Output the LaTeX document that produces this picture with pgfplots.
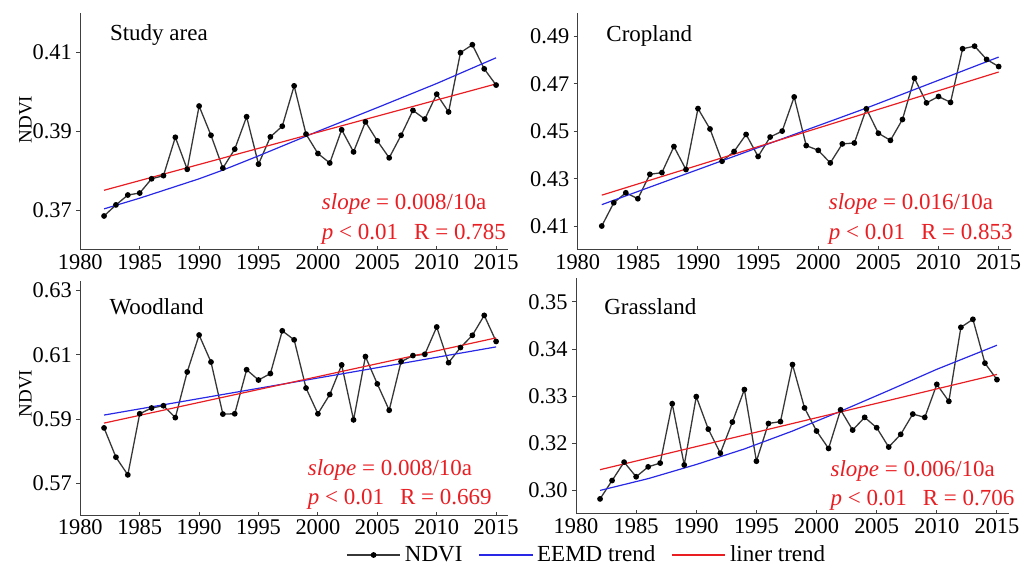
\documentclass[border=0pt]{standalone}
\usepackage{pgfplots}
\pgfplotsset{compat=1.18}
\usepackage{pgfplotstable}
\usepackage{fontspec}
\setmainfont{Liberation Serif}

\definecolor{ndvigray}{RGB}{55,55,55}
\definecolor{eemdblue}{RGB}{40,40,230}
\definecolor{linred}{RGB}{232,30,35}

% NDVI per year for the four panels
\pgfplotstableread{
year  study   crop    wood    grass
1982  0.3686  0.4101  0.5873  0.3082
1983  0.3714  0.4199  0.5782  0.3121
1984  0.3739  0.4241  0.5727  0.3160
1985  0.3744  0.4216  0.5917  0.3129
1986  0.3780  0.4319  0.5935  0.3150
1987  0.3788  0.4326  0.5942  0.3158
1988  0.3885  0.4436  0.5905  0.3284
1989  0.3804  0.4339  0.6047  0.3154
1990  0.3964  0.4596  0.6162  0.3299
1991  0.3890  0.4510  0.6078  0.3230
1992  0.3807  0.4374  0.5916  0.3179
1993  0.3855  0.4415  0.5917  0.3245
1994  0.3937  0.4487  0.6054  0.3314
1995  0.3817  0.4394  0.6022  0.3162
1996  0.3886  0.4476  0.6042  0.3242
1997  0.3913  0.4501  0.6175  0.3246
1998  0.4015  0.4645  0.6147  0.3367
1999  0.3893  0.4440  0.5997  0.3275
2000  0.3844  0.4420  0.5917  0.3226
2001  0.3820  0.4367  0.5977  0.3189
2002  0.3904  0.4447  0.6069  0.3271
2003  0.3848  0.4451  0.5898  0.3228
2004  0.3924  0.4595  0.6095  0.3255
2005  0.3876  0.4492  0.6010  0.3233
2006  0.3833  0.4462  0.5928  0.3192
2007  0.3890  0.4550  0.6079  0.3219
2008  0.3953  0.4724  0.6098  0.3262
2009  0.3931  0.4620  0.6102  0.3255
2010  0.3994  0.4647  0.6187  0.3325
2011  0.3949  0.4622  0.6076  0.3289
2012  0.4099  0.4848  0.6123  0.3446
2013  0.4119  0.4859  0.6161  0.3463
2014  0.4058  0.4803  0.6223  0.3370
2015  0.4017  0.4773  0.6142  0.3335
}\ndvidata

\pgfplotsset{
  panel/.style={
    scale only axis,
    anchor=south west,
    xmin=1980, xmax=2016,
    xtick={1980,1985,...,2015},
    axis lines*=left,
    axis line style={black!75, line width=0.5pt},
    xtick align=inside, ytick align=outside,
    major tick length=2pt,
    tick style={black!75, line width=0.5pt},
    clip=false,
    tick label style={font=\fontsize{11.2}{13}\selectfont, inner sep=2pt},
    x tick label style={/pgf/number format/1000 sep={}},
    y tick label style={/pgf/number format/.cd, fixed, precision=2, zerofill},
    /pgf/number format/assume math mode=true,
    label style={font=\fontsize{9.5}{11}\selectfont},
  },
  ndvi/.style={color=ndvigray, line width=0.65pt, mark=*, mark size=1.1pt,
    mark options={draw=black, fill=black}},
  eemd/.style={color=eemdblue, line width=0.6pt},
  liner/.style={color=linred, line width=0.6pt},
}
\newcommand{\paneltitle}[3]{\node[anchor=west, font=\fontsize{11.5}{13}\selectfont] at (rel axis cs:#1,#2) {#3};}
\newcommand{\stats}[5]{%
  \node[anchor=base west, text=linred, font=\fontsize{11.5}{13}\selectfont, inner sep=0pt]
    at (rel axis cs:#1,#2) {\textit{slope} = #4/10a};
  \node[anchor=base west, text=linred, font=\fontsize{11.5}{13}\selectfont, inner sep=0pt]
    at (rel axis cs:#1,#3) {\textit{p} < 0.01\hspace{0.7em}R = #5};}

\begin{document}
\begin{tikzpicture}
\path[use as bounding box] (0,0) rectangle (517.5pt,285.5pt);

% ---- Study area ----
\begin{axis}[panel, at={(40.15pt,160.5pt)}, width=213.85pt, height=118.65pt,
  ymin=0.36, ymax=0.42, ytick={0.37,0.39,0.41}, ylabel={NDVI},
  ylabel style={at={(axis description cs:-0.128,0.55)}, anchor=center}]
\addplot[ndvi] table[x=year, y=study] {\ndvidata};
\addplot[eemd] coordinates {(1982,0.3704) (1985,0.3731) (1990,0.3780) (1992,0.3802)
  (1995,0.3838) (2000,0.3900) (2005,0.3960) (2010,0.4021) (2015,0.4086)};
\addplot[liner] coordinates {(1982,0.3751) (2015,0.4020)};
\paneltitle{0.053}{0.906}{Study area}
\stats{0.564}{0.169}{0.045}{0.008}{0.785}
\end{axis}

% ---- Cropland ----
\begin{axis}[panel, at={(288.85pt,160.5pt)}, width=216.5pt, height=118.65pt,
  ymin=0.40, ymax=0.50, ytick={0.41,0.43,...,0.49}]
\addplot[ndvi] table[x=year, y=crop] {\ndvidata};
\addplot[eemd] coordinates {(1982,0.4191) (1992,0.4376) (2004,0.4598) (2015,0.4813)};
\addplot[liner] coordinates {(1982,0.4231) (2015,0.4750)};
\paneltitle{0.05}{0.903}{Cropland}
\stats{0.579}{0.169}{0.045}{0.016}{0.853}
\end{axis}

% ---- Woodland ----
\begin{axis}[panel, at={(40.15pt,27.65pt)}, width=213.85pt, height=117.35pt,
  ymin=0.56, ymax=0.633, ytick={0.57,0.59,0.61,0.63}, ylabel={NDVI},
  ylabel style={at={(axis description cs:-0.128,0.52)}, anchor=center}]
\addplot[ndvi] table[x=year, y=wood] {\ndvidata};
\addplot[eemd] coordinates {(1982,0.5913) (2002,0.6041) (2015,0.6125)};
\addplot[liner] coordinates {(1982,0.5888) (2015,0.6153)};
\paneltitle{0.052}{0.89}{Woodland}
\stats{0.531}{0.173}{0.046}{0.008}{0.669}
\end{axis}

% ---- Grassland ----
\begin{axis}[panel, at={(288pt,28.5pt)}, width=216.5pt, height=117.85pt,
  ymin=0.305, ymax=0.355, ytick={0.31,0.32,...,0.35},
  yticklabels={0.30,0.32,0.33,0.34,0.35},
  legend columns=3,
  legend style={draw=none, fill=none, at={(axis description cs:0.027,-0.174)},
    anchor=center, font=\fontsize{11.5}{13}\selectfont,
    /tikz/every even column/.append style={column sep=6pt}},
  legend image code/.code={\draw[mark repeat=2, mark phase=2]
    plot coordinates {(0cm,0cm) (0.47cm,0cm) (0.94cm,0cm)};}]
\addplot[ndvi] table[x=year, y=grass] {\ndvidata};
\addlegendentry{NDVI}
\addplot[eemd] coordinates {(1982,0.3100) (1986,0.3125) (1990,0.3155) (1994,0.3188)
  (1998,0.3226) (2002,0.3268) (2006,0.3312) (2010,0.3357) (2015,0.3408)};
\addlegendentry{EEMD trend}
\addplot[liner] coordinates {(1982,0.3144) (2015,0.3346)};
\addlegendentry{liner trend}
\paneltitle{0.049}{0.88}{Grassland}
\stats{0.587}{0.161}{0.034}{0.006}{0.706}
\end{axis}
\end{tikzpicture}
\end{document}
